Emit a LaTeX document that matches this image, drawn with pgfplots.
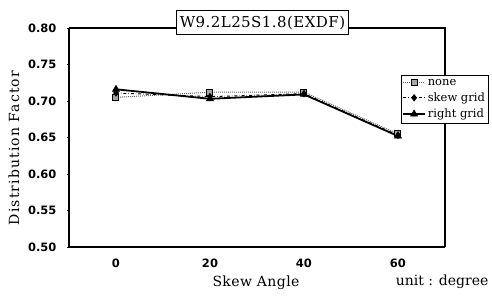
\documentclass[border=0pt]{standalone}
\usepackage{pgfplots}
\pgfplotsset{compat=1.18}
\usepackage{fontspec}
\setmainfont{DejaVu Serif}
\setsansfont{DejaVu Sans}
\pgfplotstableread{
x y
0 0.705
20 0.712
40 0.712
60 0.655
}\tnone
\pgfplotstableread{
x y
0 0.711
20 0.706
40 0.710
60 0.653
}\tskew
\pgfplotstableread{
x y
0 0.716
20 0.703
40 0.709
60 0.652
}\tright
\begin{document}
\begin{tikzpicture}[x=1pt,y=1pt]
\path[use as bounding box] (0,0) rectangle (492,295);
\begin{axis}[
  at={(69pt,48pt)}, anchor=south west, scale only axis,
  width=376pt, height=219pt,
  xmin=-10, xmax=70, ymin=0.5, ymax=0.8,
  axis x line*=bottom, axis y line*=left,
  xtick={0,20,40,60},
  major x tick style={draw=none},
  extra x ticks={10,30,50}, extra x tick labels={},
  extra x tick style={major tick length=2pt, tick align=inside, tick style={line width=0.6pt,draw=black}},
  ytick={0.5,0.55,0.6,0.65,0.7,0.75,0.8},
  y tick style={line width=0.6pt, draw=black},
  tick align=outside, major tick length=2pt,
  axis line style={line width=1.8pt},
  /pgf/number format/assume math mode=true,
  tick label style={font=\sffamily\bfseries\fontsize{11.5}{13}\selectfont},
  y tick label style={/pgf/number format/fixed, /pgf/number format/fixed zerofill, /pgf/number format/precision=2, xshift=-7pt},
  x tick label style={yshift=-6pt},
  legend style={at={(0.883,0.787)}, anchor=north west, draw=black, line width=0.8pt,
    font=\fontsize{11.5}{13}\selectfont, inner xsep=1pt, inner ysep=2pt, row sep=2pt,
    cells={anchor=west, inner xsep=1.5pt}, fill=white},
  legend image code/.code={\draw[mark repeat=2,mark phase=2,#1] plot coordinates {(0cm,0cm) (0.38cm,0cm) (0.76cm,0cm)};},
  clip=false,
]
\addplot[black!60, densely dotted, line width=1pt, mark=square*, mark size=3pt,
  mark options={solid, fill=black!35, draw=black}] table[x=x,y=y] {\tnone};
\addlegendentry{none}
\addplot[black, dash dot, line width=1pt, mark=diamond*, mark size=3pt,
  mark options={solid, fill=black}] table[x=x,y=y] {\tskew};
\addlegendentry{skew grid}
\addplot[black, line width=1.8pt, mark=triangle*, mark size=4pt,
  mark options={solid, fill=black, line width=0.6pt}] table[x=x,y=y] {\tright};
\addlegendentry{right grid}
\draw[line width=1.8pt] (rel axis cs:0,1) -- (rel axis cs:1,1) -- (rel axis cs:1,0);
\end{axis}
\node[draw=black, fill=white, line width=0.9pt, inner xsep=3pt, inner ysep=5pt,
  font=\fontsize{15}{17}\selectfont\addfontfeature{LetterSpace=3}] at (262.5,272.5) {W9.2L25S1.8(EXDF)};
\node[rotate=90, font=\fontsize{14}{16}\selectfont\addfontfeature{LetterSpace=8}] at (14,147) {Distribution Factor};
\node[font=\fontsize{14}{16}\selectfont\addfontfeature{LetterSpace=3}] at (256,12) {Skew Angle};
\node[font=\fontsize{14}{16}\selectfont, anchor=east] at (492,13) {unit : degree};
\end{tikzpicture}
\end{document}
